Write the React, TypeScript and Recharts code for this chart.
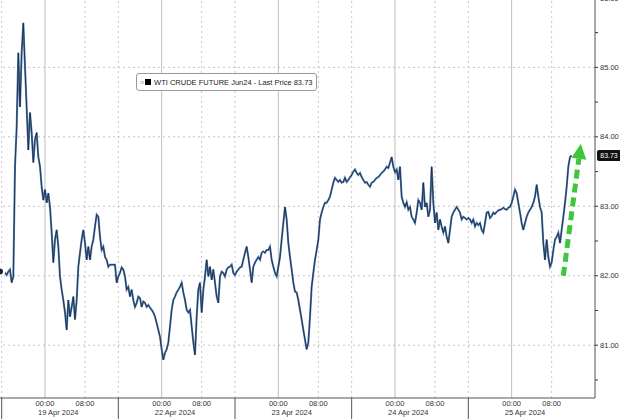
import { LineChart, Line, XAxis, YAxis, ReferenceLine, Legend } from 'recharts'

// WTI Jun24 intraday, one sample every ~20 min, 70 samples per session
const SESSION_19 = [
  82.06, 82.03, 82.07, 82.04, 82.01, 82.06, 82.09, 81.9, 81.99, 83.57,
  84.14, 85.21, 84.43, 85.21, 85.64, 85.01, 84.42, 83.81, 84.35, 84.06,
  83.63, 83.96, 84.06, 83.71, 83.57, 83.28, 83.09, 83.24, 83.05, 83.19,
  82.99, 82.62, 82.19, 82.52, 82.66, 82.42, 81.99, 81.8, 81.65, 81.47,
  81.22, 81.65, 81.41, 81.55, 81.7, 81.37, 81.65, 82.13, 82.33, 82.52,
  82.66, 82.47, 82.23, 82.42, 82.23, 82.42, 82.52, 82.71, 82.88, 82.85,
  82.56, 82.37, 82.42, 82.27, 82.23, 82.13, 82.16, 82.16, 82.16, 82.16,
]
const SESSION_22 = [
  81.9, 81.99, 82.04, 82.12, 82.09, 81.99, 81.8, 81.84, 81.7, 81.8,
  81.65, 81.55, 81.61, 81.7, 81.68, 81.55, 81.63, 81.61, 81.55, 81.58,
  81.54, 81.51, 81.47, 81.41, 81.32, 81.22, 81.12, 80.94, 80.79, 80.89,
  80.94, 81.04, 81.27, 81.51, 81.65, 81.7, 81.76, 81.8, 81.84, 81.9,
  81.76, 81.65, 81.51, 81.47, 81.51, 81.27, 81.04, 80.86, 81.41, 81.8,
  81.9, 81.47, 81.8, 81.99, 82.23, 81.99, 82.13, 81.94, 82.09, 81.9,
  81.7, 81.61, 81.99, 82.06, 82.04, 81.99, 82.09, 82.12, 82.13, 82.16,
]
const SESSION_23 = [
  82.04, 82.01, 82.06, 82.09, 82.12, 82.13, 82.23, 82.33, 82.42, 82.27,
  82.09, 81.9, 82.13, 82.19, 82.23, 82.27, 82.23, 82.33, 82.35, 82.33,
  82.37, 82.37, 82.42, 82.23, 82.13, 82.04, 81.99, 82.13, 82.27, 82.52,
  82.76, 82.99, 82.81, 82.47, 82.27, 82.09, 81.9, 81.77, 81.76, 81.65,
  81.51, 81.37, 81.22, 81.08, 80.94, 81.04, 81.41, 81.84, 82.04, 82.23,
  82.37, 82.52, 82.81, 82.91, 82.99, 83.05, 83.05, 83.09, 83.14, 83.24,
  83.34, 83.41, 83.38, 83.35, 83.38, 83.34, 83.35, 83.41, 83.35, 83.38,
]
const SESSION_24 = [
  83.42, 83.45, 83.5, 83.53, 83.48, 83.45, 83.48, 83.42, 83.38, 83.34,
  83.35, 83.31, 83.28, 83.34, 83.35, 83.38, 83.41, 83.42, 83.45, 83.48,
  83.5, 83.53, 83.57, 83.55, 83.63, 83.71, 83.57, 83.49, 83.53, 83.38,
  83.57, 83.14, 83.05, 82.99, 83.06, 82.95, 82.99, 82.85, 82.81, 82.76,
  82.91, 83.09, 83.05, 82.95, 83.34, 82.99, 83.05, 82.85, 82.95, 83.57,
  83.05, 82.76, 82.91, 82.66, 82.81, 82.71, 82.62, 82.71, 82.56, 82.47,
  82.66, 82.85, 82.91, 82.95, 82.99, 82.95, 82.91, 82.81, 82.85, 82.83,
]
const SESSION_25 = [
  82.81, 82.83, 82.81, 82.76, 82.81, 82.71, 82.76, 82.73, 82.76, 82.66,
  82.62, 82.76, 82.91, 82.92, 82.83, 82.86, 82.91, 82.89, 82.92, 82.94,
  82.95, 82.96, 82.98, 82.96, 82.95, 82.98, 82.99, 83.05, 83.14, 83.24,
  83.19, 83.05, 82.91, 82.76, 82.66, 82.76, 82.85, 82.91, 82.95, 82.99,
  83.05, 83.14, 83.31, 83.14, 82.99, 82.91, 82.47, 82.23, 82.52, 82.27,
  82.13, 82.19, 82.37, 82.52, 82.56, 82.62, 82.47, 82.66, 82.85, 83.05,
  83.28, 83.57, 83.71, 83.73,
]

const SESSION_DATES = ['19 Apr 2024', '22 Apr 2024', '23 Apr 2024', '24 Apr 2024', '25 Apr 2024']
const PRICE_TICKS = [80.5, 81, 81.5, 82, 82.5, 83, 83.5, 84, 84.5, 85, 85.5, 86]
const LAST_PRICE = 83.73
const SERIES_NAME = 'WTI CRUDE FUTURE Jun24 - Last Price 83.73'

// arrow annotation (start / tip), in sample index and price
const ARROW_FROM = { x: 338, y: 82.0 }
const ARROW_TO = { x: 348.5, y: 83.9 }

const PER_SESSION = 70
const SESSION_START = 1
const MIDNIGHT = 26
const EIGHT = 50
const DATE_MID = 34

const prices = [...SESSION_19, ...SESSION_22, ...SESSION_23, ...SESSION_24, ...SESSION_25]
const data = prices.map((price, i) => ({ i, price }))

const starts = SESSION_DATES.map((_, d) => SESSION_START + d * PER_SESSION)
const midnights = starts.map((s) => s + MIDNIGHT)
const eights = starts.map((s) => s + EIGHT)
const dateMids = starts.map((s) => s + DATE_MID)

const tickInfo = new Map<number, { kind: string; label: string }>()
starts.forEach((v) => tickInfo.set(v, { kind: 'sep', label: '' }))
midnights.forEach((v) => tickInfo.set(v, { kind: 'time', label: '00:00' }))
eights.forEach((v) => tickInfo.set(v, { kind: 'time', label: '08:00' }))
dateMids.forEach((v, d) => tickInfo.set(v, { kind: 'date', label: SESSION_DATES[d] }))
const xTicks = [...tickInfo.keys()].sort((a, b) => a - b)

const FONT = '"Liberation Sans", Arial, sans-serif'
const GRID = '#c4c4c4'

function XTick(props: any) {
  const { x, y, payload } = props
  const info = tickInfo.get(payload.value)
  if (!info) return <g />
  if (info.kind === 'sep') {
    return <line x1={x} x2={x} y1={y} y2={y + 22} stroke="#555" strokeWidth={1} />
  }
  const dy = info.kind === 'time' ? 8 : 17
  return (
    <text x={x} y={y + dy} textAnchor="middle" fontSize={7.5} fill="#333" fontFamily={FONT}>
      {info.label}
    </text>
  )
}

function LastPriceTag(props: any) {
  const { viewBox } = props
  const x = viewBox.x + viewBox.width + 2
  const y = viewBox.y
  return (
    <g>
      <rect x={x} y={y - 5.5} width={24} height={11} rx={2} fill="#111" />
      <text x={x + 12} y={y + 2.5} textAnchor="middle" fontSize={7} fill="#fff" fontFamily={FONT}>
        {LAST_PRICE.toFixed(2)}
      </text>
    </g>
  )
}

function Arrow(props: any) {
  const { x1, y1, x2, y2 } = props
  const dx = x2 - x1
  const dy = y2 - y1
  const len = Math.sqrt(dx * dx + dy * dy)
  const ux = dx / len
  const uy = dy / len
  const head = 15
  const half = 7.5
  const bx = x2 - ux * head
  const by = y2 - uy * head
  return (
    <g>
      <line x1={x1} y1={y1} x2={bx} y2={by} stroke="#3fc63f" strokeWidth={5} strokeDasharray="9 5" />
      <polygon
        points={`${x2},${y2} ${bx - uy * half},${by + ux * half} ${bx + uy * half},${by - ux * half}`}
        fill="#3fc63f"
      />
    </g>
  )
}

function LegendBox() {
  return (
    <div
      style={{
        display: 'flex',
        alignItems: 'center',
        height: 16,
        padding: '0 4px 0 3px',
        background: '#fff',
        border: '1px solid #9a9a9a',
        borderRadius: 3,
        fontFamily: FONT,
        fontSize: 7.5,
        color: '#222',
        whiteSpace: 'nowrap',
      }}
    >
      <span style={{ color: '#999', marginRight: 1, fontSize: 7 }}>≡</span>
      <span style={{ display: 'inline-block', width: 6, height: 6, background: '#000', marginRight: 3 }} />
      {SERIES_NAME}
    </div>
  )
}

export default function App() {
  return (
    <div style={{ position: 'absolute', left: 0, top: 0, background: '#fff' }}>
      <LineChart width={620} height={419} data={data} margin={{ top: 0, right: 0, bottom: 0, left: 0 }}>
        <XAxis
          dataKey="i"
          type="number"
          domain={[0, 357]}
          ticks={xTicks}
          interval={0}
          height={21}
          tickSize={0}
          tickMargin={0}
          tickLine={false}
          axisLine={{ stroke: '#555' }}
          tick={<XTick />}
        />
        <YAxis
          orientation="right"
          type="number"
          domain={[80.24, 85.97]}
          allowDataOverflow
          ticks={PRICE_TICKS}
          interval={0}
          width={25}
          tickSize={3}
          tickMargin={2}
          tickFormatter={(v: number) => (Number.isInteger(v) ? v.toFixed(2) : '')}
          tick={{ fontSize: 7.5, fill: '#333', fontFamily: FONT }}
          tickLine={{ stroke: '#333' }}
          axisLine={{ stroke: '#555' }}
        />
        {[81, 82, 83, 84, 85].map((v) => (
          <ReferenceLine key={'h' + v} y={v} stroke={GRID} strokeDasharray="2 3" />
        ))}
        {starts.map((v) => (
          <ReferenceLine key={'s' + v} x={v} stroke={GRID} strokeDasharray="2 3" />
        ))}
        {eights.map((v) => (
          <ReferenceLine key={'e' + v} x={v} stroke={GRID} strokeDasharray="2 3" />
        ))}
        {midnights.map((v) => (
          <ReferenceLine key={'m' + v} x={v} stroke="#bdbdbd" />
        ))}
        <Line
          dataKey="price"
          stroke="#4f7db5"
          strokeWidth={2}
          dot={false}
          isAnimationActive={false}
          legendType="none"
        />
        <Line
          dataKey="price"
          stroke="#1a2433"
          strokeWidth={0.8}
          dot={false}
          isAnimationActive={false}
          legendType="none"
        />
        <ReferenceLine y={LAST_PRICE} stroke="none" label={LastPriceTag} />
        <ReferenceLine segment={[ARROW_FROM, ARROW_TO]} stroke="#3fc63f" shape={Arrow} />
        <Legend
          layout="horizontal"
          align="center"
          verticalAlign="middle"
          wrapperStyle={{ top: 73, left: 136, width: 'auto' }}
          content={() => <LegendBox />}
        />
      </LineChart>
    </div>
  )
}
